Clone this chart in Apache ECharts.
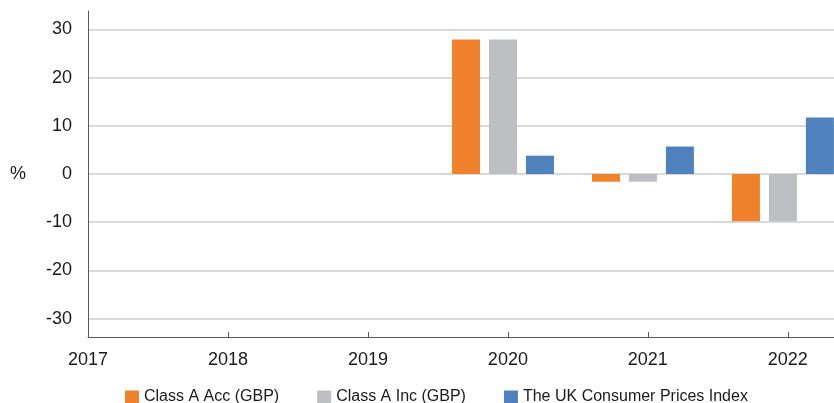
<!DOCTYPE html>
<html>
<head>
<meta charset="utf-8">
<script src="https://cdn.jsdelivr.net/npm/echarts@6/dist/echarts.min.js"></script>
<style>
  html, body { margin: 0; padding: 0; background: #ffffff; }
  #chart { width: 834px; height: 403px; }
</style>
</head>
<body>
<div id="chart"></div>
<script>
// ---- data ----
var years = [2020, 2021, 2022];
var classAAcc = [27.9, -1.6, -9.8];
var classAInc = [27.9, -1.6, -9.8];
var ukCPI = [3.8, 5.7, 11.7];
var seriesNames = ['Class A Acc (GBP)', 'Class A Inc (GBP)', 'The UK Consumer Prices Index'];
var seriesColors = ['#F0822D', '#BEBFC3', '#4F81BD'];
var xMin = 2017, xMax = 2022.33;
var barShift = 0.035; // bars sit slightly left of the year ticks in the original
var yMin = -33.8, yMax = 33.8;

function pairs(vals) {
  return years.map(function (y, i) { return [y, vals[i]]; });
}

var FONT = '"Liberation Sans", Arial, sans-serif';
var chart = echarts.init(document.getElementById('chart'), null, { renderer: 'canvas' });

var allVals = [classAAcc, classAInc, ukCPI];
var series = allVals.map(function (vals, i) {
  return {
    name: seriesNames[i],
    type: 'bar',
    xAxisIndex: 1,
    data: pairs(vals),
    barWidth: 28,
    barGap: '32%',
    itemStyle: { color: seriesColors[i] },
    emphasis: { disabled: true }
  };
});

chart.setOption({
  animation: false,
  textStyle: { fontFamily: FONT },
  grid: { left: 88, right: 0, top: 11, bottom: 66, containLabel: false },
  legend: {
    left: 125,
    top: 389,
    padding: 0,
    icon: 'rect',
    itemWidth: 14,
    itemHeight: 13,
    itemGap: 38,
    textStyle: { fontFamily: FONT, fontSize: 16, color: '#1a1a1a' },
    data: seriesNames
  },
  xAxis: [{
    type: 'value',
    min: xMin,
    max: xMax,
    interval: 1,
    axisLine: { onZero: false, lineStyle: { color: '#595959', width: 1 } },
    axisTick: { show: true, inside: true, length: 5, lineStyle: { color: '#595959' } },
    splitLine: { show: false },
    axisLabel: {
      showMaxLabel: false,
      margin: 14,
      fontSize: 18,
      fontFamily: FONT,
      color: '#1a1a1a',
      formatter: function (v) { return String(Math.round(v)); }
    }
  }, {
    type: 'value',
    show: false,
    min: xMin + barShift,
    max: xMax + barShift
  }],
  yAxis: {
    type: 'value',
    min: yMin,
    max: yMax,
    splitNumber: 5,
    name: '%',
    nameLocation: 'middle',
    nameRotate: 0,
    nameGap: 62,
    nameTextStyle: { fontSize: 18, fontFamily: FONT, color: '#1a1a1a' },
    axisLine: { show: true, lineStyle: { color: '#595959', width: 1 } },
    axisTick: { show: false },
    splitLine: { show: true, showMinLine: false, showMaxLine: false, lineStyle: { color: '#D9D9D9', width: 2 } },
    axisLabel: {
      showMinLabel: false,
      showMaxLabel: false,
      margin: 16,
      fontSize: 18,
      fontFamily: FONT,
      color: '#1a1a1a'
    }
  },
  series: series
});
</script>
</body>
</html>
